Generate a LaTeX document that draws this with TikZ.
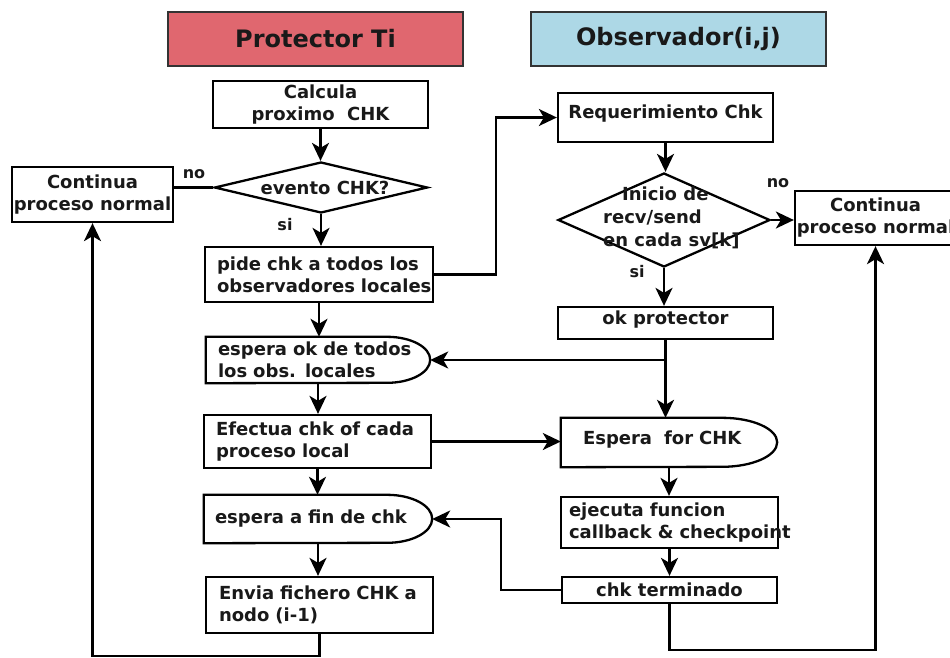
\documentclass[tikz,border=0pt]{standalone}
\usepackage{fontspec}
\setmainfont{DejaVu Sans}
\usetikzlibrary{arrows.meta,shapes.geometric}
\definecolor{hdrred}{HTML}{E0676F}
\definecolor{hdrblue}{HTML}{ADD8E6}
\begin{document}
\begin{tikzpicture}[x=1pt,y=-1pt,
  every node/.style={font=\bfseries\fontsize{18}{22}\selectfont, text=black!90},
  ln/.style={line width=2.3pt},
  box/.style={draw, ln, rectangle, inner sep=0pt},
  lbox/.style={box, align=left},
  hdr/.style={draw=black!80, line width=1.6pt, minimum width=295pt, minimum height=54pt, inner sep=0pt, font=\bfseries\fontsize{24}{28}\selectfont},
  arr/.style={ln, -{Stealth[length=18pt,width=17pt,inset=5pt]}},
  lbl/.style={font=\bfseries\fontsize{16}{18}\selectfont},
]
\fill[white] (0,0) rectangle (950,657);
\useasboundingbox (0,0) rectangle (950,657);

% headers
\node[hdr, fill=hdrred] (hp) at (315.5,39) {Protector Ti};
\node[hdr, fill=hdrblue] (ho) at (678.5,39) {Observador(i,j)};

% left column
\node[box, minimum width=215pt, minimum height=47pt, align=center] (calc) at (320.5,104.5) {Calcula\\proximo\ \ CHK};
\node[draw, ln, diamond, minimum width=213pt, minimum height=51pt, inner sep=0pt] (d1) at (321,187.5) {};
\node (d1t) at (325,188) {evento CHK?};
\node[box, minimum width=161pt, minimum height=55pt, align=center] (c1) at (92.5,194.5) {Continua\\proceso normal};
\node[lbox, text width=204pt, inner xsep=12pt, minimum height=55pt] (pide) at (319,274.5) {\mbox{pide chk a todos los}\\\mbox{observadores locales}};
\node[align=left, text width=200pt, inner xsep=12pt, inner ysep=0pt, minimum height=46pt] (espok) at (318,360) {\mbox{espera ok de todos}\\\mbox{los obs. locales}};
\draw[ln] (espok.north west) -- ([xshift=-43pt]espok.north east) arc[start angle=90, end angle=-90, x radius=43pt, y radius=23pt] -- (espok.south west) -- cycle;
\node[lbox, text width=203pt, inner xsep=12pt, minimum height=53pt] (efect) at (317.5,441.5) {\mbox{Efectua chk of cada}\\\mbox{proceso local}};
\node[align=left, text width=206pt, inner xsep=11pt, inner ysep=0pt, minimum height=48pt] (espfin) at (318,519) {\mbox{espera a fin de chk}};
\draw[ln] (espfin.north west) -- ([xshift=-45pt]espfin.north east) arc[start angle=90, end angle=-90, x radius=45pt, y radius=24pt] -- (espfin.south west) -- cycle;
\node[lbox, text width=201pt, inner xsep=13pt, minimum height=56pt] (envia) at (319.5,605) {\mbox{Envia fichero CHK a}\\\mbox{nodo (i-1)}};

% right column
\node[box, minimum width=215pt, minimum height=49pt, text depth=12pt] (req) at (665.5,117.5) {Requerimiento Chk};
\node[draw, ln, diamond, minimum width=212pt, minimum height=94pt, inner sep=0pt] (d2) at (664,220) {};
\node[anchor=west, align=left, inner sep=0pt, font=\bfseries\fontsize{18}{23}\selectfont] (d2t) at (603,218) {\hspace{19pt}Inicio de\\recv/send\\en cada sv[k]};
\node[box, minimum width=161pt, minimum height=54pt, align=center] (c2) at (875.5,218) {Continua\\proceso normal};
\node[box, minimum width=215pt, minimum height=32pt, text depth=10pt] (okp) at (665.5,323) {ok protector};
\node[align=left, text width=172pt, inner xsep=22pt, inner ysep=0pt, minimum height=49pt, text depth=9pt] (espchk) at (669,442.5) {Espera\ \ for CHK};
\draw[ln] (espchk.north west) -- ([xshift=-55pt]espchk.north east) arc[start angle=90, end angle=-90, x radius=55pt, y radius=24.5pt] -- (espchk.south west) -- cycle;
\node[lbox, text width=201pt, inner xsep=8pt, minimum height=51pt] (ejec) at (669.5,522.5) {\mbox{ejecuta funcion}\\\mbox{callback \& checkpoint}};
\node[box, minimum width=215pt, minimum height=26pt] (chkt) at (669.5,590) {chk terminado};

% labels
\node[lbl] (no1) at (194,174) {no};
\node[lbl] (si1) at (285,225) {si};
\node[lbl] (no2) at (778,183) {no};
\node[lbl] (si2) at (637,272) {si};

% connectors left
\draw[arr] (calc.south) -- (calc.south |- d1.north);
\draw[ln] (d1.west) -- (d1.west -| c1.east);
\draw[arr] (d1.south) -- (d1.south |- pide.north);
\draw[arr] (pide.east) -- ++(62,0) |- (req.west);
\draw[arr] (pide.south) -- (pide.south |- espok.north);
\draw[arr] (espok.south) -- (espok.south |- efect.north);
\draw[arr] (efect.south) -- (efect.south |- espfin.north);
\draw[arr] (espfin.south) -- (espfin.south |- envia.north);
\draw[arr] (envia.south) -- ++(0,22) -| (c1.south);

% connectors right
\draw[arr] (req.south) -- (req.south |- d2.north);
\draw[arr] (d2.east) -- (d2.east -| c2.west);
\draw[arr] (d2.south) -- (d2.south |- okp.north);
\draw[arr] (okp.south) -- (okp.south |- espchk.north);
\draw[arr] (okp.south |- espok.east) -- (espok.east);
\draw[arr] (efect.east) -- (efect.east -| espchk.west);
\draw[arr] (espchk.south) -- (espchk.south |- ejec.north);
\draw[arr] (ejec.south) -- (ejec.south |- chkt.north);
\draw[arr] (chkt.west) -- ++(-60,0) |- (espfin.east);
\draw[arr] (chkt.south) -- ++(0,46) -| (c2.south);
\end{tikzpicture}
\end{document}
